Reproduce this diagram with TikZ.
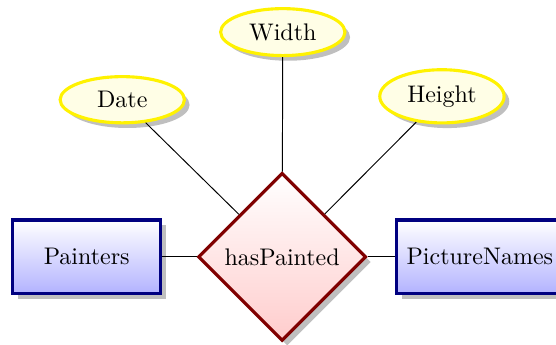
\documentclass[tikz,border=0pt]{standalone}
\usepackage{tikz}
\usetikzlibrary{shapes.geometric, shadows, positioning}
\tikzstyle{entity} = [
    rectangle, draw=blue!50!black, line width=1.3pt, top color=white,
    bottom color=blue!30, minimum width=2.17cm, minimum height=1.08cm,
    drop shadow
]
\tikzstyle{relation} = [
    diamond, draw=red!50!black, line width=1.3pt, top color=white,
    bottom color=red!20, minimum size=2.46cm, inner sep=0pt, drop shadow
]
\tikzstyle{attribute} = [
    ellipse, draw=yellow, line width=1.3pt, fill=yellow!10,
    minimum width=1.82cm, minimum height=0.64cm, drop shadow
]

\begin{document}
\begin{tikzpicture}
        \useasboundingbox (0,0) rectangle (8.14,-5.05);

        % Relation
        \node[relation] (painted) at (4.13,-3.76) {hasPainted};

        % Entities
        \node[entity, left=0.5cm of painted] (painters) {Painters};
        \node[entity, right=0.4cm of painted, minimum width=2.44cm] (names)
            {PictureNames};

        % Attributes
        \node[attribute] (date) at (1.79,-1.46) {Date};
        \node[attribute] (width) at (4.14,-0.47) {Width};
        \node[attribute] (height) at (6.47,-1.41) {Height};

        % Lines
        \draw (painters) -- (painted);
        \draw (painted) -- (names);
        \draw (date) -- (painted);
        \draw (width) -- (painted);
        \draw (height) -- (painted);
    \end{tikzpicture}
\end{document}
